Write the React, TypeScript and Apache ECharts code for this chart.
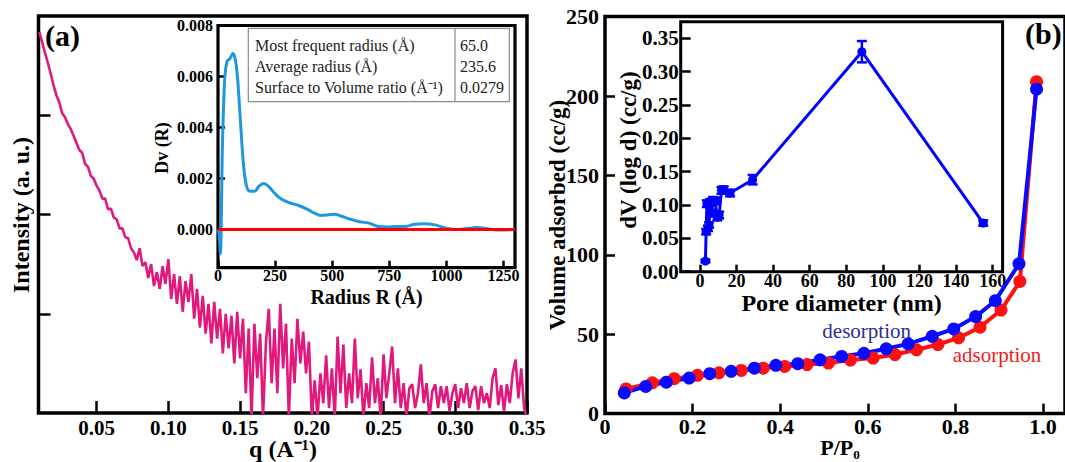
import React, { useEffect, useRef } from "react";
import * as echarts from "echarts";

// ---------- Panel (a): SAXS intensity vs q ----------
const saxs: [number, number][] = [
  [0.010, 3.84], [0.012, 3.74], [0.014, 3.63], [0.016, 3.53], [0.018, 3.42], [0.020, 3.30],
  [0.022, 3.20], [0.024, 3.13], [0.026, 3.02], [0.028, 2.98], [0.030, 2.91], [0.032, 2.86],
  [0.034, 2.79], [0.036, 2.72], [0.038, 2.65], [0.040, 2.62], [0.042, 2.51], [0.044, 2.48],
  [0.046, 2.39], [0.048, 2.36], [0.050, 2.29], [0.052, 2.24], [0.054, 2.16], [0.056, 2.16],
  [0.058, 2.05], [0.060, 2.06], [0.062, 1.97], [0.064, 1.95], [0.066, 1.86], [0.068, 1.86],
  [0.070, 1.77], [0.072, 1.76], [0.074, 1.66], [0.076, 1.62], [0.078, 1.54], [0.080, 1.66],
  [0.082, 1.48], [0.084, 1.52], [0.086, 1.36], [0.088, 1.50], [0.090, 1.28], [0.092, 1.42],
  [0.094, 1.25], [0.096, 1.48], [0.098, 1.30], [0.100, 1.55], [0.102, 1.15], [0.104, 1.40],
  [0.106, 1.10], [0.108, 1.38], [0.110, 1.02], [0.112, 1.33], [0.114, 1.12], [0.116, 1.40],
  [0.118, 0.95], [0.120, 1.25], [0.122, 0.86], [0.124, 1.18], [0.126, 0.80], [0.128, 1.10],
  [0.130, 0.70], [0.132, 1.12], [0.134, 0.75], [0.136, 1.05], [0.138, 0.60], [0.140, 1.00],
  [0.142, 0.65], [0.144, 0.98], [0.146, 0.50], [0.148, 1.02], [0.150, 0.55], [0.152, 0.95],
  [0.154, 0.20], [0.156, 0.85], [0.158, -0.05], [0.160, 0.90], [0.162, 0.35], [0.164, 0.80],
  [0.166, -0.05], [0.168, 0.70], [0.170, 1.05], [0.172, 0.30], [0.174, 0.85], [0.176, 0.20],
  [0.178, 1.10], [0.180, 0.45], [0.182, 0.90], [0.184, -0.05], [0.186, 0.75], [0.188, 0.30],
  [0.190, 0.95], [0.192, 0.50], [0.194, 0.82], [0.196, 0.40], [0.198, 0.72], [0.200, -0.05],
  [0.202, 0.33], [0.204, -0.05], [0.206, 0.40], [0.208, 0.10], [0.210, 0.58], [0.212, 0.05],
  [0.214, 0.45], [0.216, -0.05], [0.218, 0.77], [0.220, 0.20], [0.222, 0.69], [0.224, 0.05],
  [0.226, 0.40], [0.228, 0.10], [0.230, 0.75], [0.232, 0.15], [0.234, 0.44], [0.236, -0.05],
  [0.238, 0.30], [0.240, 0.05], [0.242, 0.56], [0.244, 0.10], [0.246, 0.35], [0.248, -0.05],
  [0.250, 0.59], [0.252, 0.15], [0.254, 0.40], [0.256, 0.67], [0.258, 0.10], [0.260, 0.45],
  [0.262, 0.05], [0.264, 0.30], [0.266, -0.05], [0.268, 0.25], [0.270, 0.29], [0.272, 0.05],
  [0.274, 0.20], [0.276, 0.49], [0.278, 0.10], [0.280, 0.30], [0.282, -0.05], [0.284, 0.22],
  [0.286, 0.29], [0.288, 0.05], [0.290, 0.27], [0.292, 0.10], [0.294, 0.27], [0.296, 0.02],
  [0.298, 0.20], [0.300, 0.29], [0.302, 0.05], [0.304, 0.25], [0.306, 0.10], [0.308, 0.30],
  [0.310, 0.05], [0.312, 0.22], [0.314, 0.27], [0.316, 0.03], [0.318, 0.27], [0.320, 0.10],
  [0.322, 0.20], [0.324, 0.05], [0.326, 0.35], [0.328, 0.45], [0.330, 0.08], [0.332, 0.28],
  [0.334, 0.02], [0.336, 0.29], [0.338, 0.10], [0.340, 0.40], [0.342, 0.54], [0.344, 0.15],
  [0.346, 0.45], [0.348, 0.05], [0.350, -0.05],
];
const qTicks = [0.05, 0.1, 0.15, 0.2, 0.25, 0.3, 0.35];
const intensityTicks = [1, 2, 3];

// ---------- Panel (a) inset: volume distribution Dv(R) ----------
const psdR = [0, 5, 10, 20, 30, 40, 52, 65, 75, 85, 100, 112, 125, 140, 160, 180, 200, 220, 250, 275,
  310, 350, 390, 420, 450, 480, 510, 540, 580, 620, 660, 700, 740, 780, 820, 860, 900, 950, 1000,
  1050, 1100, 1130, 1180, 1220, 1260, 1300];
const psdDv = [0.0, -0.0002, -0.00095, 0.0035, 0.006, 0.0066, 0.0067, 0.0069, 0.0067, 0.006, 0.004,
  0.0025, 0.0017, 0.0015, 0.0015, 0.0017, 0.0018, 0.0017, 0.0014, 0.0012, 0.00105, 0.00095, 0.0008,
  0.00065, 0.00055, 0.00057, 0.0006, 0.00052, 0.0004, 0.0003, 0.00025, 0.00012, 0.0001, 0.00012,
  0.00012, 0.0002, 0.00022, 0.00018, 0.00005, 0.0, 0.00005, 0.00008, 0.00003, -0.00002, -0.00002, 0.0];
const zeroR = [0, 1300];
const zeroDv = [0, 0];
const radiusTicks = [0, 250, 500, 750, 1000, 1250];
const dvTicks = [0, 0.002, 0.004, 0.006, 0.008];
const tableRows = ["Most frequent radius (Å)", "Average radius (Å)", "Surface to Volume ratio (Å⁻¹)"];
const tableVals = ["65.0", "235.6", "0.0279"];

// ---------- Panel (b): N2 isotherm ----------
const adsP = [0.048, 0.108, 0.158, 0.211, 0.26, 0.311, 0.361, 0.41, 0.461, 0.51, 0.56, 0.612, 0.662,
  0.711, 0.76, 0.807, 0.856, 0.904, 0.947, 0.985];
const adsV = [15.5, 19.4, 22.0, 24.1, 25.7, 27.2, 28.6, 29.7, 30.9, 31.8, 33.7, 35.0, 37.2, 40.2, 43.5,
  47.7, 54.4, 65.2, 83.2, 209.0];
const desP = [0.044, 0.093, 0.14, 0.192, 0.239, 0.288, 0.341, 0.39, 0.44, 0.491, 0.54, 0.591, 0.642,
  0.692, 0.747, 0.796, 0.846, 0.891, 0.945, 0.985];
const desV = [13.0, 17.1, 19.8, 22.4, 25.1, 26.6, 28.6, 30.4, 31.4, 33.9, 36.0, 38.0, 40.8, 43.9, 48.7,
  53.3, 61.1, 71.1, 94.3, 204.3];
const pTicks = [0, 0.2, 0.4, 0.6, 0.8, 1.0];
const volTicks = [0, 50, 100, 150, 200, 250];

// ---------- Panel (b) inset: pore size distribution ----------
const poreD = [3.0, 3.4, 3.8, 4.4, 5.0, 5.6, 6.4, 7.2, 8.3, 9.5, 10.5, 11.8, 13.0, 16.5, 28.8, 88.5, 154.8];
const poreDV = [0.016, 0.06, 0.102, 0.065, 0.07, 0.104, 0.088, 0.107, 0.106, 0.082, 0.085, 0.122, 0.123,
  0.118, 0.138, 0.33, 0.073];
const poreErr = [0.002, 0.004, 0.005, 0.004, 0.004, 0.005, 0.005, 0.005, 0.005, 0.005, 0.005, 0.005,
  0.005, 0.005, 0.007, 0.016, 0.004];
const poreTicks = [0, 20, 40, 60, 80, 100, 120, 140, 160];
const dvLogTicks = [0, 0.05, 0.1, 0.15, 0.2, 0.25, 0.3, 0.35];

const SERIF = "'Liberation Serif', 'Times New Roman', serif";

function zip(a: number[], b: number[]) {
  return a.map((v, i) => [v, b[i]]);
}

function label(size: number, margin: number, fmt: (v: number) => string, custom: number[], lineHeight?: number) {
  const o: any = {
    show: true,
    fontFamily: SERIF,
    fontWeight: "bold",
    fontSize: size,
    color: "#000",
    margin,
    formatter: fmt,
    customValues: custom,
  };
  if (lineHeight) o.lineHeight = lineHeight;
  return o;
}
function tick(len: number, custom: number[]) {
  return { show: true, inside: true, length: len, customValues: custom, lineStyle: { color: "#000", width: 2.5 } };
}
const noLine = { show: false, onZero: false };

function txt(text: string, x: number, y: number, size: number, opts: any = {}) {
  const style: any = {
    text,
    fontFamily: SERIF,
    fontWeight: opts.weight || "bold",
    fontSize: size,
    fill: opts.color || "#000",
    align: opts.align || "center",
    verticalAlign: "middle",
  };
  if (opts.lineHeight) style.lineHeight = opts.lineHeight;
  return { type: "text", x, y, z: 100, rotation: opts.rotation || 0, style };
}

export default function App() {
  const ref = useRef<HTMLDivElement>(null);
  useEffect(() => {
    if (!ref.current) return;
    const chart = echarts.init(ref.current, null, { renderer: "svg" });
    const frame = (w: number) => ({ show: true, borderColor: "#000", borderWidth: w });
    const tableX = 248.3, tableY = 28.3, tableW = 261, tableH = 73.4, divX = 455;
    const option: any = {
      animation: false,
      backgroundColor: "#fff",
      grid: [
        { left: 38.5, top: 16, width: 488.5, height: 397, ...frame(3.5) },
        { left: 218, top: 25.5, width: 297, height: 242.2, backgroundColor: "#fff", ...frame(3.2) },
        { left: 605, top: 16.6, right: -7.25, height: 397, ...frame(3.5) },
        { left: 680.7, top: 21.7, width: 321.9, height: 250, backgroundColor: "#fff", ...frame(3) },
      ],
      xAxis: [
        {
          type: "value", gridIndex: 0, min: 0.0095, max: 0.35,
          axisLine: noLine, splitLine: { show: false },
          axisTick: tick(12, qTicks),
          axisLabel: label(21, 4, (v: number) => v.toFixed(2), qTicks),
        },
        {
          type: "value", gridIndex: 1, min: 0, max: 1300,
          axisLine: noLine, splitLine: { show: false },
          axisTick: tick(7, radiusTicks),
          axisLabel: label(16, 1, (v: number) => String(v), radiusTicks, 14),
        },
        {
          type: "value", gridIndex: 2, min: 0, max: 1.05,
          axisLine: noLine, splitLine: { show: false },
          axisTick: tick(10, pTicks),
          axisLabel: label(22, 5, (v: number) => (v === 0 ? "0" : v.toFixed(1)), pTicks, 16),
        },
        {
          type: "value", gridIndex: 3, min: -10.5, max: 165.4,
          axisLine: noLine, splitLine: { show: false },
          axisTick: tick(7, poreTicks),
          axisLabel: label(18, 2, (v: number) => String(v), poreTicks, 14),
        },
      ],
      yAxis: [
        {
          type: "value", gridIndex: 0, min: 0, max: 4,
          axisLine: noLine, splitLine: { show: false },
          axisTick: tick(12, intensityTicks), axisLabel: { show: false },
        },
        {
          type: "value", gridIndex: 1, min: -0.0015, max: 0.008,
          axisLine: noLine, splitLine: { show: false },
          axisTick: tick(7, dvTicks),
          axisLabel: label(16, 5, (v: number) => v.toFixed(3), dvTicks),
        },
        {
          type: "value", gridIndex: 2, min: 0, max: 250,
          axisLine: noLine, splitLine: { show: false },
          axisTick: tick(10, volTicks),
          axisLabel: label(22, 6, (v: number) => String(v), volTicks, 16),
        },
        {
          type: "value", gridIndex: 3, min: 0, max: 0.375,
          axisLine: noLine, splitLine: { show: false },
          axisTick: tick(10, dvLogTicks),
          axisLabel: label(21, 2, (v: number) => v.toFixed(2), dvLogTicks),
        },
      ],
      series: [
        {
          type: "line", xAxisIndex: 0, yAxisIndex: 0, data: saxs, showSymbol: false, clip: true,
          lineStyle: { color: "#e0197d", width: 2.6 }, itemStyle: { color: "#e0197d" },
        },
        {
          type: "line", xAxisIndex: 1, yAxisIndex: 1, data: zip(psdR, psdDv), showSymbol: false,
          smooth: 0.35, clip: true,
          lineStyle: { color: "#1f96e0", width: 3 }, itemStyle: { color: "#1f96e0" },
        },
        {
          type: "line", xAxisIndex: 1, yAxisIndex: 1, data: zip(zeroR, zeroDv), showSymbol: false,
          lineStyle: { color: "#ff0000", width: 3 }, itemStyle: { color: "#ff0000" },
        },
        {
          type: "line", xAxisIndex: 2, yAxisIndex: 2, data: zip(adsP, adsV), symbol: "circle",
          symbolSize: 13, lineStyle: { color: "#ff1111", width: 4 }, itemStyle: { color: "#ff1111" },
        },
        {
          type: "line", xAxisIndex: 2, yAxisIndex: 2, data: zip(desP, desV), symbol: "circle",
          symbolSize: 13, lineStyle: { color: "#0a0aff", width: 4 }, itemStyle: { color: "#0a0aff" },
        },
        {
          type: "line", xAxisIndex: 3, yAxisIndex: 3, data: zip(poreD, poreDV), symbol: "circle",
          symbolSize: 9, lineStyle: { color: "#0000ff", width: 3 }, itemStyle: { color: "#0000ff" },
        },
        {
          type: "custom", xAxisIndex: 3, yAxisIndex: 3,
          data: poreD.map((d, i) => [d, poreDV[i], poreErr[i]]),
          encode: { x: 0, y: 1 },
          renderItem: (params: any, api: any) => {
            const x = api.value(0), y = api.value(1), e = api.value(2);
            const top = api.coord([x, y + e]);
            const bot = api.coord([x, y - e]);
            const hw = 5;
            const style = { stroke: "#0000ff", lineWidth: 2.5 };
            return {
              type: "group",
              children: [
                { type: "line", shape: { x1: top[0], y1: top[1], x2: bot[0], y2: bot[1] }, style },
                { type: "line", shape: { x1: top[0] - hw, y1: top[1], x2: top[0] + hw, y2: top[1] }, style },
                { type: "line", shape: { x1: bot[0] - hw, y1: bot[1], x2: bot[0] + hw, y2: bot[1] }, style },
              ],
            };
          },
        },
      ],
      graphic: [
        txt("(a)", 45, 35, 30, { align: "left" }),
        txt("(b)", 1025, 33, 30, { align: "left" }),
        txt("Intensity (a. u.)", 21, 215, 24, { rotation: Math.PI / 2 }),
        txt("q (A⁻¹)", 283, 449, 24),
        txt("Dv (R)", 161.5, 148, 18, { rotation: Math.PI / 2 }),
        txt("Radius R (Å)", 366.5, 296.5, 20, { lineHeight: 20 }),
        txt("Volume adsorbed (cc/g)", 557, 215, 23, { rotation: Math.PI / 2 }),
        txt("P/P₀", 840, 447, 22),
        txt("dV (log d) (cc/g)", 628.6, 150, 23, { rotation: Math.PI / 2 }),
        txt("Pore diameter (nm)", 841.6, 303, 24, { lineHeight: 20 }),
        txt("desorption", 866.7, 330.7, 21, { weight: "normal", color: "#2b2f8f" }),
        txt("adsorption", 997, 355, 21, { weight: "normal", color: "#ee1c1c" }),
        {
          type: "rect", z: 100,
          shape: { x: tableX, y: tableY, width: tableW, height: tableH },
          style: { fill: "#fff", stroke: "#8a8a8a", lineWidth: 1.2 },
        },
        {
          type: "line", z: 101,
          shape: { x1: divX, y1: tableY, x2: divX, y2: tableY + tableH },
          style: { stroke: "#8a8a8a", lineWidth: 1.2 },
        },
        ...tableRows.map((t, i) => txt(t, 255, 45 + i * 21.4, 16, { align: "left", weight: "normal", color: "#222" })),
        ...tableVals.map((t, i) => txt(t, 460, 45 + i * 21.4, 16, { align: "left", weight: "normal", color: "#222" })),
      ],
    };
    chart.setOption(option);
    return () => chart.dispose();
  }, []);
  return (
    <div
      ref={ref}
      style={{ position: "fixed", left: 0, top: 0, width: 1065, height: 462, background: "#fff" }}
    />
  );
}
